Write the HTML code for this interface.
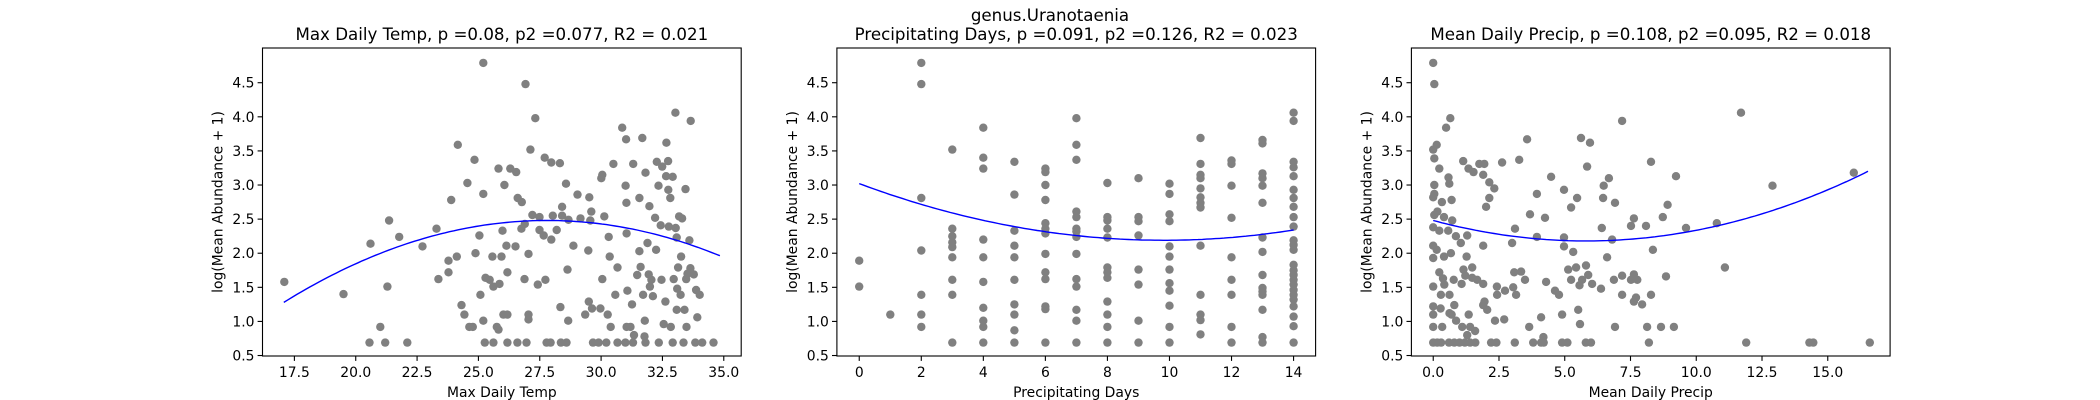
<!DOCTYPE html>
<html><head><meta charset="utf-8"><style>
body{margin:0;background:#fff;}
svg{display:block;font-family:"DejaVu Sans","Liberation Sans",sans-serif;}
</style></head><body>
<svg id="fig" width="2100" height="400" viewBox="0 0 2100 400">
<rect width="2100" height="400" fill="#fff"/>
<text x="1050" y="21" text-anchor="middle" font-size="16.67">genus.Uranotaenia</text>
</svg>
<script>
const p1x=[17.09,19.5,20.56,20.6,21.0,21.2,21.29,21.36,21.77,22.1,22.72,23.29,23.37,23.78,23.78,23.89,24.12,24.16,24.31,24.43,24.55,24.63,24.77,24.84,24.88,25.04,25.08,25.2,25.2,25.2,25.26,25.29,25.46,25.61,25.57,25.61,25.75,25.82,25.86,25.82,25.94,25.98,26.02,26.06,26.14,26.18,26.18,26.18,26.3,26.51,26.54,26.6,26.59,26.77,26.75,26.88,26.89,26.96,26.92,27.04,27.04,27.04,27.12,27.2,27.32,27.42,27.49,27.49,27.66,27.73,27.7,27.78,27.94,27.97,27.97,28.03,28.19,28.34,28.32,28.41,28.41,28.36,28.59,28.57,28.63,28.66,28.67,28.87,29.04,29.16,29.35,29.48,29.5,29.52,29.56,29.6,29.63,29.67,29.9,29.97,30.01,30.05,30.05,30.13,30.21,30.27,30.31,30.35,30.39,30.5,30.58,30.67,30.67,30.86,31.02,31.0,31.03,31.04,31.07,31.04,30.99,31.2,31.26,31.31,31.34,31.3,31.47,31.56,31.56,31.61,31.68,31.71,31.78,31.77,31.81,31.81,31.89,31.94,31.97,31.99,32.05,32.11,32.2,32.24,32.27,32.34,32.35,32.43,32.49,32.46,32.55,32.62,32.66,32.65,32.73,32.74,32.76,32.82,32.84,32.92,32.92,32.96,33.03,33.04,33.08,33.08,33.1,33.18,33.14,33.26,33.24,33.3,33.36,33.4,33.44,33.47,33.48,33.52,33.6,33.65,33.64,33.78,33.84,33.87,33.92,34.02,34.12,34.58];
const p1y=[1.58,1.40,0.69,2.14,0.92,0.69,1.51,2.48,2.24,0.69,2.10,2.36,1.62,1.89,1.72,2.78,1.95,3.59,1.24,1.10,3.03,0.92,0.92,3.37,2.00,2.26,1.39,4.79,2.87,1.01,0.69,1.64,1.61,0.69,1.95,1.51,0.92,0.88,1.55,3.24,1.95,2.33,1.10,3.00,2.11,1.72,0.69,1.10,3.24,2.10,3.19,2.81,0.69,2.75,2.36,1.62,2.43,0.69,4.48,1.99,1.10,1.03,3.52,2.56,3.98,1.54,2.34,2.53,2.26,1.61,3.40,0.69,0.69,3.33,2.20,2.55,2.34,1.21,3.32,2.68,2.55,0.69,0.69,3.02,1.76,1.01,2.49,2.11,2.86,2.51,1.10,2.04,1.29,2.82,2.48,2.61,1.19,0.69,0.69,1.19,3.10,3.15,1.62,2.54,0.69,1.10,2.24,1.95,0.92,3.31,1.39,1.79,0.69,3.84,3.67,2.99,2.74,2.29,1.45,0.92,0.69,0.92,1.25,3.31,0.80,0.69,1.68,2.81,2.03,1.80,3.69,1.39,1.01,0.78,0.69,3.18,2.15,1.69,2.69,1.51,1.61,1.37,2.52,2.05,3.34,2.99,0.69,2.41,3.27,1.61,0.96,1.29,3.62,3.13,3.35,2.93,2.39,2.81,0.92,3.12,0.69,1.62,4.06,2.37,2.23,1.17,1.48,2.54,1.79,1.95,1.39,2.51,0.69,1.17,2.94,1.62,0.92,1.70,2.19,3.94,1.78,1.69,0.69,1.46,1.06,1.39,0.69,0.69];
const p2days=[0,1,2,3,4,5,6,7,8,9,10,11,12,13,14];
const p2vals=[[1.89,1.51],[1.10],[4.79,4.48,2.81,2.04,1.39,1.10,0.92],[3.52,2.36,2.25,2.16,2.09,1.94,1.61,1.39,0.69],[3.84,3.40,3.24,2.20,1.94,1.58,1.20,1.01,0.92,0.69],[3.34,2.86,2.33,2.11,1.94,1.61,1.25,1.10,0.87,0.69],[3.24,3.19,3.00,2.78,2.44,2.36,2.29,1.99,1.72,1.62,1.22,1.18,0.69],[3.98,3.59,3.37,2.61,2.53,2.36,2.32,2.24,1.99,1.62,1.51,1.17,1.01,0.69],[3.03,2.53,2.48,2.36,2.23,1.79,1.72,1.64,1.29,1.10,0.92,0.69],[3.10,2.53,2.47,2.26,1.76,1.54,1.01,0.69],[3.02,2.87,2.57,2.47,2.10,1.95,1.76,1.56,1.45,1.23,0.92,0.69],[3.69,3.31,3.15,3.10,2.95,2.82,2.74,2.67,2.11,1.39,1.10,1.02,0.81],[3.36,3.31,2.99,2.52,1.94,1.61,1.39,0.92,0.69],[3.66,3.61,3.17,3.10,2.99,2.74,2.23,2.02,1.68,1.49,1.44,1.39,1.17,0.77,0.69],[4.06,3.94,3.34,3.26,3.13,2.93,2.81,2.68,2.53,2.39,2.19,2.12,2.05,1.83,1.75,1.68,1.61,1.54,1.46,1.39,1.32,1.22,1.07,0.93,0.69]];
const p3x=[0,0.04,0.65,0.49,0.13,0,0.04,0.23,1.14,1.34,1.53,1.75,1.94,1.9,2.62,3.27,3.57,0.58,0.61,0.04,0.04,0,0.33,0.70,2.13,2.32,2.13,2.01,0.04,0.16,0.41,0.72,0,0.23,0.57,0.86,1.05,1.29,0,0.13,0.41,0.67,0,1.27,1.9,3.11,3.0,3.68,3.94,3.94,4.25,4.48,4.97,4.97,4.97,5.32,5.24,5.47,5.62,5.96,5.85,6.48,6.68,6.46,6.91,6.41,6.8,6.61,7.18,7.52,7.63,8.09,8.28,8.35,8.73,8.91,9.23,9.61,10.78,11.09,11.7,12.9,15.99,
0.23,1.15,1.48,0.37,0.78,1.08,1.22,1.48,1.67,1.9,0,0.42,2.42,2.43,2.73,3.04,3.15,3.08,3.34,3.49,4.29,4.63,4.78,5.13,5.24,5.43,5.56,5.66,5.81,5.89,6.04,6.38,6.87,7.18,7.18,7.52,7.63,7.76,7.63,7.71,7.94,8.28,8.85,0.29,0.62,0,0.28,0,0.62,0.8,0.70,0.87,1.35,1.95,2.05,1.9,2.35,2.7,4.1,4.9,5.51,5.58,0,0.34,1.1,1.4,1.59,1.29,3.65,6.91,8.13,8.66,9.15,4.19,
0,0.15,0.3,0.6,0.8,1.0,1.2,1.4,1.6,2.2,2.4,3.1,3.8,4.1,4.2,4.9,5.1,5.8,6.0,8.2,11.9,14.3,14.45,16.6];
const p3y=[4.79,4.48,3.98,3.84,3.59,3.52,3.39,3.24,3.35,3.24,3.19,3.31,3.31,3.15,3.33,3.37,3.67,3.11,3.02,3.00,2.87,2.82,2.75,2.78,3.04,2.95,2.81,2.68,2.56,2.61,2.53,2.48,2.38,2.33,2.33,2.25,2.15,2.26,2.11,2.05,1.95,2.0,1.93,1.95,2.11,2.36,2.15,2.57,2.87,2.24,2.52,3.12,2.93,2.23,2.10,2.02,2.67,2.81,3.69,3.62,3.27,2.99,3.10,2.81,2.74,2.37,2.2,1.94,3.94,2.40,2.51,2.40,3.34,2.05,2.53,2.71,3.13,2.37,2.44,1.79,4.06,2.99,3.18,
1.72,1.76,1.79,1.63,1.61,1.55,1.67,1.64,1.61,1.55,1.51,1.54,1.51,1.39,1.45,1.50,1.39,1.72,1.73,1.61,1.58,1.45,1.39,1.76,1.61,1.79,1.53,1.61,1.82,1.68,1.55,1.48,1.61,1.67,1.39,1.61,1.69,1.61,1.29,1.35,1.25,1.39,1.66,1.39,1.39,1.22,1.19,1.10,1.12,1.24,1.10,1.01,1.10,1.29,1.17,1.24,1.01,1.03,1.06,1.10,1.17,0.96,0.92,0.92,0.92,0.92,0.86,0.80,0.92,0.92,0.92,0.92,0.92,0.77,
0.69,0.69,0.69,0.69,0.69,0.69,0.69,0.69,0.69,0.69,0.69,0.69,0.69,0.69,0.69,0.69,0.69,0.69,0.69,0.69,0.69,0.69,0.69,0.69];
const fitA=[-0.01043,0.00861,0.00888];
const fitH=[27.8,9.82,5.81];
const fitK=[2.48,2.19,2.18];
const fitRange=[[17.07,34.84],[0,14],[0,16.53]];
const titles=["Max Daily Temp, p =0.08, p2 =0.077, R2 = 0.021","Precipitating Days, p =0.091, p2 =0.126, R2 = 0.023","Mean Daily Precip, p =0.108, p2 =0.095, R2 = 0.018"];
const xlabels=["Max Daily Temp","Precipitating Days","Mean Daily Precip"];
const xticks=[[17.5,20,22.5,25,27.5,30,32.5,35],[0,2,4,6,8,10,12,14],[0,2.5,5,7.5,10,12.5,15]];
const xtickLabels=[["17.5","20.0","22.5","25.0","27.5","30.0","32.5","35.0"],["0","2","4","6","8","10","12","14"],["0.0","2.5","5.0","7.5","10.0","12.5","15.0"]];
const yticks=[0.5,1,1.5,2,2.5,3,3.5,4,4.5];
const ytickLabels=["0.5","1.0","1.5","2.0","2.5","3.0","3.5","4.0","4.5"];
const xlims=[[16.2,35.71],[-0.72,14.71],[-0.83,17.37]];
const ylim=[0.493,5.009];

const NS="http://www.w3.org/2000/svg";
const svg=document.getElementById('fig');
function mk(tag,attrs,parent){const e=document.createElementNS(NS,tag);for(const k in attrs)e.setAttribute(k,attrs[k]);(parent||svg).appendChild(e);return e;}
const axL=[262.5,836.9,1411.4], axW=478.7, axT=48, axB=356;
const names=["temp","days","precip"];
for(let i=0;i<3;i++){
  const L=axL[i];
  const xs=v=>L+(v-xlims[i][0])/(xlims[i][1]-xlims[i][0])*axW;
  const ys=v=>axB-(v-ylim[0])/(ylim[1]-ylim[0])*(axB-axT);
  const g=mk('g',{});
  
  
  const pts=mk('g',{fill:'#808080'},g);
  
  
  let X=[],Y=[];
  if(i===0){X=p1x;Y=p1y;}
  else if(i===1){p2days.forEach((d,j)=>p2vals[j].forEach(v=>{X.push(d);Y.push(v);}));}
  else {X=p3x;Y=p3y;}
  for(let j=0;j<X.length;j++){
    const c=mk('circle',{cx:xs(X[j]).toFixed(1),cy:ys(Y[j]).toFixed(1),r:4.2},pts);
    
    
  }
  let d='';const [a0,a1]=fitRange[i];
  for(let s=0;s<=100;s++){const x=a0+(a1-a0)*s/100;const y=fitA[i]*(x-fitH[i])**2+fitK[i];d+=(s?'L':'M')+xs(x).toFixed(1)+','+ys(y).toFixed(1);}
  const fl=mk('path',{d:d,fill:'none',stroke:'#0000ff','stroke-width':1.4},g);
  
  
  const fr=mk('rect',{x:L,y:axT,width:axW,height:axB-axT,fill:'none',stroke:'#000','stroke-width':1.1},g);
  
  
  xticks[i].forEach((t,j)=>{
    const x=xs(t);
    mk('line',{x1:x,x2:x,y1:axB,y2:axB+4.9,stroke:'#000','stroke-width':1.1},g);
    const tl=mk('text',{x:x,y:axB+21,'text-anchor':'middle','font-size':13.9},g);
    tl.textContent=xtickLabels[i][j];
    
    
  });
  yticks.forEach((t,j)=>{
    const y=ys(t);
    mk('line',{x1:L-4.9,x2:L,y1:y,y2:y,stroke:'#000','stroke-width':1.1},g);
    const tl=mk('text',{x:L-8,y:y+5,'text-anchor':'end','font-size':13.9},g);
    tl.textContent=ytickLabels[j];
    
    
  });
  const xl=mk('text',{x:L+axW/2,y:397,'text-anchor':'middle','font-size':13.9},g);
  xl.textContent=xlabels[i];
  
  
  const yl=mk('text',{x:0,y:0,'text-anchor':'middle','font-size':13.9,transform:`translate(${L-40},${(axT+axB)/2}) rotate(-90)`},g);
  yl.textContent='log(Mean Abundance + 1)';
  
  
  const tt=mk('text',{x:L+axW/2,y:40,'text-anchor':'middle','font-size':16.67},g);
  tt.textContent=titles[i];
  
  
}
</script>
</body></html>
